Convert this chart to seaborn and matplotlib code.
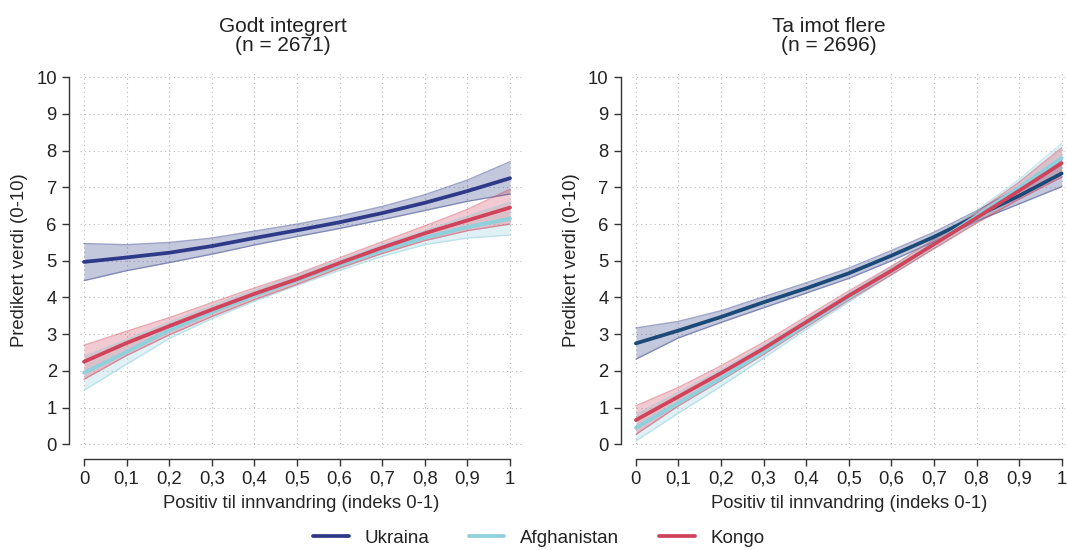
import numpy as np
import pandas as pd
import matplotlib
matplotlib.use("Agg")
import matplotlib.pyplot as plt
import seaborn as sns

# data
x_vals = [0, 0.1, 0.2, 0.3, 0.4, 0.5, 0.6, 0.7, 0.8, 0.9, 1.0]
x_ticklabels = ["0", "0,1", "0,2", "0,3", "0,4", "0,5", "0,6", "0,7", "0,8", "0,9", "1"]
countries = ["Ukraina", "Afghanistan", "Kongo"]
colors = {"Ukraina": "#2e3a87", "Afghanistan": "#8ed0dc", "Kongo": "#d1435b"}

titles = ["Godt integrert\n(n = 2671)", "Ta imot flere\n(n = 2696)"]

# panel 1: Godt integrert
gi_ukraina = [4.97, 5.09, 5.22, 5.40, 5.62, 5.83, 6.05, 6.30, 6.58, 6.90, 7.25]
gi_ukraina_lo = [4.46, 4.73, 4.95, 5.18, 5.43, 5.66, 5.88, 6.12, 6.37, 6.62, 6.82]
gi_ukraina_hi = [5.47, 5.44, 5.50, 5.62, 5.81, 6.00, 6.22, 6.48, 6.80, 7.20, 7.70]
gi_afghan = [1.95, 2.52, 3.11, 3.60, 4.05, 4.47, 4.88, 5.28, 5.63, 5.92, 6.15]
gi_afghan_lo = [1.47, 2.18, 2.88, 3.42, 3.90, 4.33, 4.74, 5.12, 5.44, 5.62, 5.70]
gi_afghan_hi = [2.40, 2.85, 3.33, 3.78, 4.20, 4.61, 5.02, 5.44, 5.82, 6.22, 6.60]
gi_kongo = [2.25, 2.76, 3.22, 3.67, 4.10, 4.50, 4.94, 5.36, 5.75, 6.10, 6.45]
gi_kongo_lo = [1.77, 2.42, 2.98, 3.48, 3.94, 4.36, 4.80, 5.20, 5.55, 5.82, 6.00]
gi_kongo_hi = [2.70, 3.08, 3.45, 3.86, 4.26, 4.64, 5.08, 5.52, 5.95, 6.40, 6.95]

# panel 2: Ta imot flere
ti_ukraina = [2.75, 3.10, 3.47, 3.87, 4.25, 4.66, 5.14, 5.65, 6.22, 6.77, 7.38]
ti_ukraina_lo = [2.32, 2.90, 3.32, 3.72, 4.12, 4.52, 5.00, 5.52, 6.08, 6.55, 7.02]
ti_ukraina_hi = [3.17, 3.35, 3.64, 4.02, 4.40, 4.80, 5.28, 5.78, 6.36, 7.00, 7.75]
ti_afghan = [0.45, 1.13, 1.80, 2.52, 3.27, 4.00, 4.73, 5.45, 6.22, 7.00, 7.80]
ti_afghan_lo = [0.09, 0.85, 1.58, 2.35, 3.13, 3.88, 4.62, 5.34, 6.08, 6.78, 7.42]
ti_afghan_hi = [0.82, 1.42, 2.03, 2.70, 3.41, 4.12, 4.84, 5.57, 6.37, 7.22, 8.20]
ti_kongo = [0.66, 1.30, 1.94, 2.61, 3.33, 4.05, 4.73, 5.45, 6.17, 6.91, 7.66]
ti_kongo_lo = [0.27, 1.05, 1.74, 2.45, 3.20, 3.93, 4.62, 5.33, 6.03, 6.68, 7.28]
ti_kongo_hi = [1.05, 1.55, 2.14, 2.78, 3.48, 4.18, 4.85, 5.58, 6.32, 7.14, 8.08]

panels = [
    {"Ukraina": (gi_ukraina, gi_ukraina_lo, gi_ukraina_hi),
     "Afghanistan": (gi_afghan, gi_afghan_lo, gi_afghan_hi),
     "Kongo": (gi_kongo, gi_kongo_lo, gi_kongo_hi)},
    {"Ukraina": (ti_ukraina, ti_ukraina_lo, ti_ukraina_hi),
     "Afghanistan": (ti_afghan, ti_afghan_lo, ti_afghan_hi),
     "Kongo": (ti_kongo, ti_kongo_lo, ti_kongo_hi)},
]

sns.set_theme(style="ticks")
plt.rcParams["font.family"] = ["Liberation Sans", "DejaVu Sans"]
plt.rcParams["text.color"] = "#222222"

fig = plt.figure(figsize=(10.67, 5.5), dpi=100)
ax1 = fig.add_axes([0.0747, 0.1855, 0.4145, 0.684])
ax2 = fig.add_axes([0.592, 0.1855, 0.407, 0.684])
axes = [ax1, ax2]
xlims = [(-0.01, 1.028), (-0.01, 1.01)]
title_x = [0.46, 0.455]

for i, ax in enumerate(axes):
    data = panels[i]
    rows = []
    for c in countries:
        mid, lo, hi = data[c]
        for xv, yv in zip(x_vals, mid):
            rows.append({"x": xv, "y": yv, "land": c})
        ax.fill_between(x_vals, lo, hi, color=colors[c], alpha=0.28, lw=0)
        ax.plot(x_vals, lo, color=colors[c], alpha=0.45, lw=1.0)
        ax.plot(x_vals, hi, color=colors[c], alpha=0.45, lw=1.0)
    df = pd.DataFrame(rows)
    pal = dict(colors)
    if i == 1:
        pal["Ukraina"] = "#1c4a78"
    sns.lineplot(data=df, x="x", y="y", hue="land", hue_order=countries,
                 palette=pal, lw=2.7, ax=ax, legend=False)

    ax.set_xlim(*xlims[i])
    ax.set_ylim(-0.1, 10.15)
    ax.set_xticks(x_vals)
    ax.set_xticklabels(x_ticklabels)
    ax.set_yticks(range(0, 11))
    ax.grid(True, linestyle=(0, (1, 3)), color="#bbbbbb", lw=0.8)
    ax.tick_params(labelsize=13.3, length=5, width=1.0, colors="#333333",
                   labelcolor="#222222")
    ax.set_xlabel("Positiv til innvandring (indeks 0-1)", fontsize=13.3, labelpad=5)
    ax.set_ylabel("Predikert verdi (0-10)", fontsize=13.3, labelpad=6)
    ax.set_title(titles[i], fontsize=15, pad=15, linespacing=1.0, x=title_x[i])
    sns.despine(ax=ax, offset=8, trim=True)
    for s in ["left", "bottom"]:
        ax.spines[s].set_linewidth(1.0)
        ax.spines[s].set_color("#333333")

handles = [plt.Line2D([0], [0], color=colors[c], lw=2.7) for c in countries]
fig.legend(handles, countries, loc="lower center", bbox_to_anchor=(0.505, -0.025),
           ncol=3, frameon=False, fontsize=13.5, handlelength=1.9,
           handletextpad=0.85, columnspacing=2.1)

fig.savefig("out.png", dpi=100)
